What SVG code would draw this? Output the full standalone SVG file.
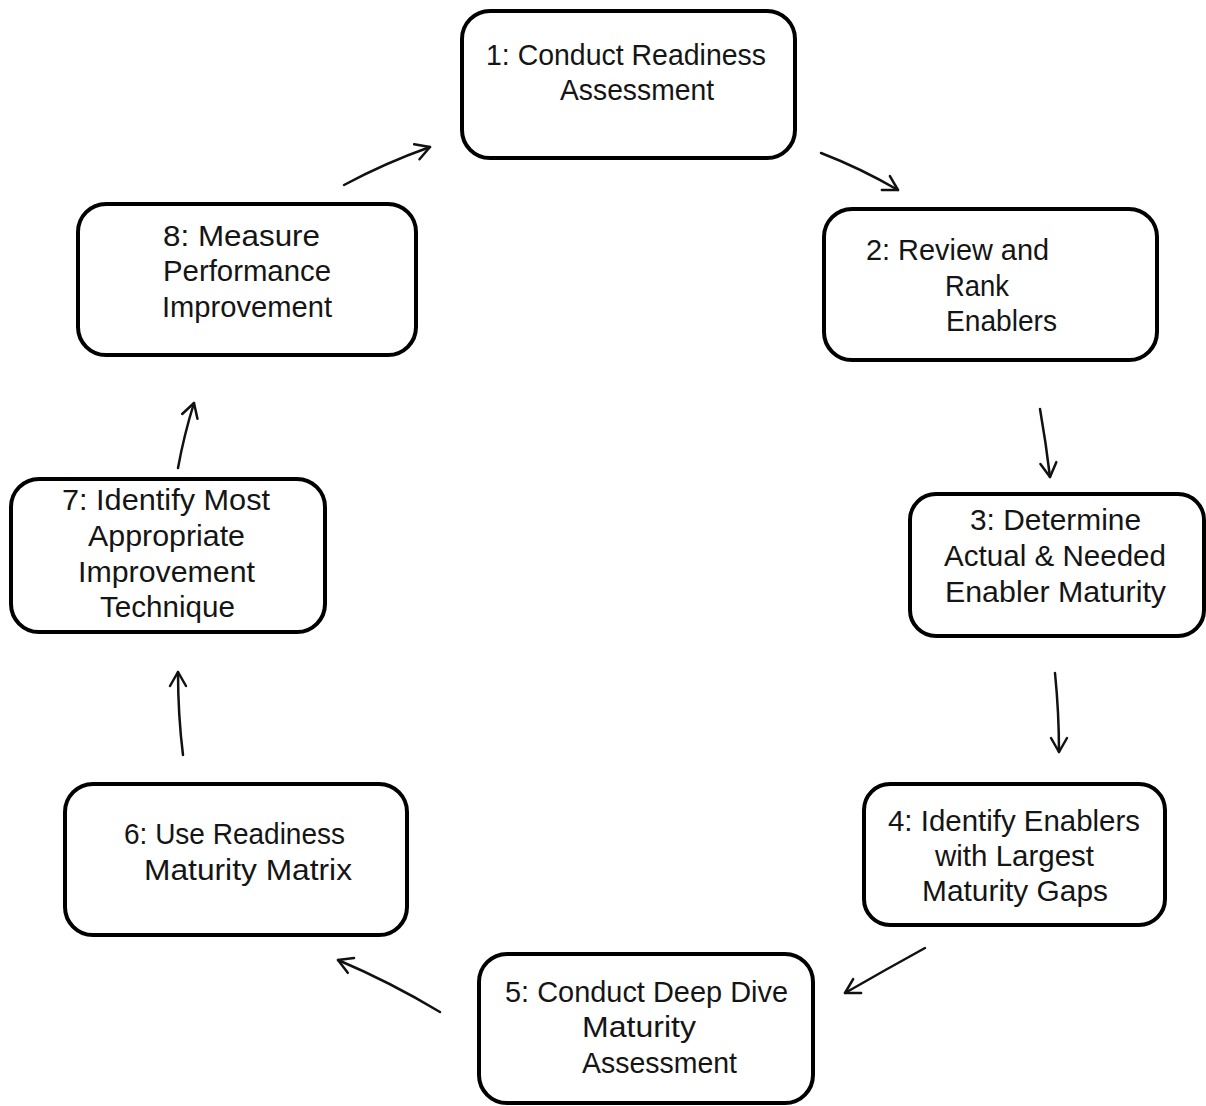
<svg xmlns="http://www.w3.org/2000/svg" width="1206" height="1106" viewBox="0 0 1206 1106">
<style>
.box{fill:#fff;stroke:#000;stroke-width:4}
.t{font-family:"Liberation Sans",Arial,sans-serif;font-size:30px;fill:#151515}
.c{fill:none;stroke:#111;stroke-width:2.5;stroke-linecap:round}
</style>
<defs>
<marker id="ah" viewBox="0 0 20 20" refX="18" refY="10" markerWidth="20" markerHeight="20" markerUnits="userSpaceOnUse" orient="auto">
<path d="M4,2 L18,10 L4,18" fill="none" stroke="#111" stroke-width="2.5" stroke-linecap="round" stroke-linejoin="round"/>
</marker>
</defs>
<rect width="1206" height="1106" fill="#fff"/>
<g id="node1">
<rect class="box" x="462" y="11" width="333" height="147" rx="28"/>
<text class="t" x="486" y="65" textLength="280" lengthAdjust="spacingAndGlyphs">1: Conduct Readiness</text>
<text class="t" x="560" y="100" textLength="154" lengthAdjust="spacingAndGlyphs">Assessment</text>
</g>
<g id="node2">
<rect class="box" x="824" y="209" width="333" height="151" rx="28"/>
<text class="t" x="866" y="260" textLength="183" lengthAdjust="spacingAndGlyphs">2: Review and</text>
<text class="t" x="945" y="296" textLength="64" lengthAdjust="spacingAndGlyphs">Rank</text>
<text class="t" x="946" y="331" textLength="111" lengthAdjust="spacingAndGlyphs">Enablers</text>
</g>
<g id="node3">
<rect class="box" x="910" y="494" width="294" height="142" rx="26"/>
<text class="t" x="970" y="530" textLength="171" lengthAdjust="spacingAndGlyphs">3: Determine</text>
<text class="t" x="944" y="566" textLength="222" lengthAdjust="spacingAndGlyphs">Actual &amp; Needed</text>
<text class="t" x="945" y="602" textLength="221" lengthAdjust="spacingAndGlyphs">Enabler Maturity</text>
</g>
<g id="node4">
<rect class="box" x="864" y="784" width="301" height="141" rx="26"/>
<text class="t" x="888" y="831" textLength="252" lengthAdjust="spacingAndGlyphs">4: Identify Enablers</text>
<text class="t" x="935" y="866" textLength="159" lengthAdjust="spacingAndGlyphs">with Largest</text>
<text class="t" x="922" y="901" textLength="186" lengthAdjust="spacingAndGlyphs">Maturity Gaps</text>
</g>
<g id="node5">
<rect class="box" x="479" y="954" width="334" height="149" rx="28"/>
<text class="t" x="505" y="1002" textLength="283" lengthAdjust="spacingAndGlyphs">5: Conduct Deep Dive</text>
<text class="t" x="582" y="1037" textLength="114" lengthAdjust="spacingAndGlyphs">Maturity</text>
<text class="t" x="582" y="1073" textLength="155" lengthAdjust="spacingAndGlyphs">Assessment</text>
</g>
<g id="node6">
<rect class="box" x="65" y="784" width="342" height="151" rx="28"/>
<text class="t" x="124" y="844" textLength="221" lengthAdjust="spacingAndGlyphs">6: Use Readiness</text>
<text class="t" x="144" y="880" textLength="208" lengthAdjust="spacingAndGlyphs">Maturity Matrix</text>
</g>
<g id="node7">
<rect class="box" x="11" y="479" width="314" height="153" rx="28"/>
<text class="t" x="62" y="510" textLength="208" lengthAdjust="spacingAndGlyphs">7: Identify Most</text>
<text class="t" x="88" y="546" textLength="157" lengthAdjust="spacingAndGlyphs">Appropriate</text>
<text class="t" x="78" y="582" textLength="177" lengthAdjust="spacingAndGlyphs">Improvement</text>
<text class="t" x="100" y="617" textLength="135" lengthAdjust="spacingAndGlyphs">Technique</text>
</g>
<g id="node8">
<rect class="box" x="78" y="204" width="338" height="151" rx="28"/>
<text class="t" x="163" y="246" textLength="157" lengthAdjust="spacingAndGlyphs">8: Measure</text>
<text class="t" x="163" y="281" textLength="168" lengthAdjust="spacingAndGlyphs">Performance</text>
<text class="t" x="162" y="317" textLength="170" lengthAdjust="spacingAndGlyphs">Improvement</text>
</g>
<g id="connectors">
<path class="c" d="M344,185 Q385,163 430,147" marker-end="url(#ah)"/>
<path class="c" d="M821,153 Q860,168 898,190" marker-end="url(#ah)"/>
<path class="c" d="M1040,409 Q1046,443 1050,477" marker-end="url(#ah)"/>
<path class="c" d="M1055,673 Q1059,713 1059,752" marker-end="url(#ah)"/>
<path class="c" d="M925,948 Q885,970 845,993" marker-end="url(#ah)"/>
<path class="c" d="M440,1012 Q390,982 338,960" marker-end="url(#ah)"/>
<path class="c" d="M183,755 Q178,715 178,672" marker-end="url(#ah)"/>
<path class="c" d="M178,468 Q184,435 194,403" marker-end="url(#ah)"/>
</g>
</svg>
